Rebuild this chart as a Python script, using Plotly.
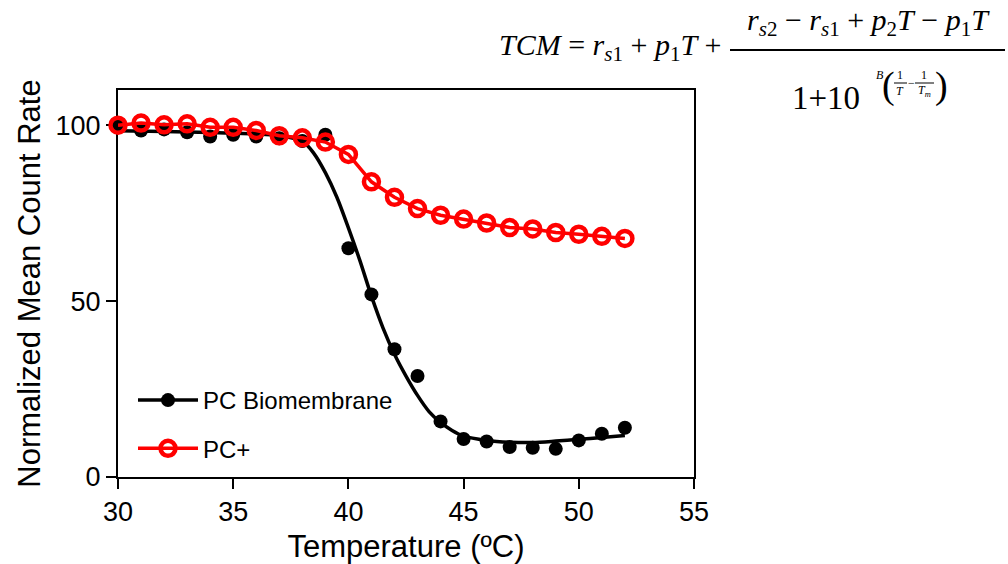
import plotly.graph_objects as go

# ---------------- data ----------------
temperature = [30, 31, 32, 33, 34, 35, 36, 37, 38, 39, 40, 41, 42, 43, 44, 45, 46, 47, 48, 49, 50, 51, 52]
pc_biomembrane = [99.8, 98.5, 98.8, 98.0, 96.8, 97.3, 96.8, 96.3, 95.5, 97.3, 65.0, 51.9, 36.3, 28.7, 15.8,
                  10.8, 10.1, 8.5, 8.3, 8.0, 10.4, 12.3, 14.0]
pc_plus = [100.0, 100.6, 100.1, 100.4, 99.4, 99.4, 98.5, 97.0, 96.4, 95.2, 91.7, 83.9, 79.5, 76.3, 74.4,
           73.3, 72.2, 70.9, 70.5, 69.5, 69.0, 68.4, 67.8]

# fitted (TCM) curve for PC Biomembrane
fit_temperature = [30, 32, 34, 36, 37, 38, 38.5, 39, 39.5, 40, 40.5, 41, 41.5, 42, 42.5, 43, 43.5, 44, 44.5,
                   45, 46, 47, 48, 49, 50, 51, 52]
fit_value = [98.4, 98.2, 97.9, 97.5, 97.0, 95.5, 92.0, 86.5, 79.5, 70.8, 61.5, 51.4, 42.4, 34.9, 28.7, 23.2,
             18.6, 15.5, 13.2, 11.6, 10.4, 9.9, 9.8, 10.2, 10.7, 11.2, 11.8]

series_names = ["PC Biomembrane", "PC+"]
x_ticks = [30, 35, 40, 45, 50, 55]
y_ticks = [0, 50, 100]

# ---------------- figure ----------------
W, H = 1008, 564
L, R, T, B = 118, 314, 90, 87
PW, PH = W - L - R, H - T - B


def px(x):
    return (x - L) / PW


def py(y):
    return (H - B - y) / PH


FONT = "Liberation Sans, Arial, sans-serif"
SERIF = "Liberation Serif, Times New Roman, serif"

fig = go.Figure()

fig.add_trace(go.Scatter(
    x=temperature, y=pc_biomembrane, mode="markers", showlegend=False,
    marker=dict(color="black", size=14, line=dict(width=0)), cliponaxis=False,
))
fig.add_trace(go.Scatter(
    x=fit_temperature, y=fit_value, mode="lines", showlegend=False,
    line=dict(color="black", width=3.5, shape="spline", smoothing=0.8), cliponaxis=False,
))
# legend entry for the black series (line + filled marker)
fig.add_trace(go.Scatter(
    x=[None], y=[None], mode="lines+markers", name=series_names[0],
    line=dict(color="black", width=3.5), marker=dict(color="black", size=14),
    legendgroup="a",
))
fig.add_trace(go.Scatter(
    x=temperature, y=pc_plus, mode="lines+markers", name=series_names[1],
    line=dict(color="#ff0000", width=3.5),
    marker=dict(symbol="circle-open", color="#ff0000", size=15, line=dict(width=4.5, color="#ff0000")),
    cliponaxis=False, legendgroup="b",
))

axis_common = dict(
    showline=True, linecolor="black", linewidth=2, mirror=True,
    ticks="outside", ticklen=10, tickwidth=2, tickcolor="black",
    showgrid=False, zeroline=False, layer="below traces", automargin=False,
    tickfont=dict(family=FONT, size=27, color="black"),
)

fig.update_layout(
    width=W, height=H,
    margin=dict(l=L, r=R, t=T, b=B, pad=0),
    paper_bgcolor="white", plot_bgcolor="white",
    font=dict(family=FONT, color="black"),
    xaxis=dict(range=[30, 55], tickvals=x_ticks,
               title=dict(text="Temperature (ºC)", font=dict(family=FONT, size=31, color="black"), standoff=12),
               **axis_common),
    yaxis=dict(range=[0, 110], tickvals=y_ticks,
               title=dict(text="Normalized Mean Count Rate", font=dict(family=FONT, size=31, color="black"),
                          standoff=6),
               **axis_common),
    legend=dict(x=px(133), y=py(378), xanchor="left", yanchor="top",
                bgcolor="rgba(0,0,0,0)", font=dict(family=FONT, size=24, color="black"),
                traceorder="grouped", tracegroupgap=14, itemwidth=60),
    showlegend=True,
)

# ---------------- equation (TCM) ----------------
eq_font = dict(family=SERIF, size=30, color="black")
big_font = dict(family=SERIF, size=33, color="black")


def note(x, y, text, font, xanchor="center"):
    fig.add_annotation(x=px(x), y=py(y), xref="paper", yref="paper", xanchor=xanchor, yanchor="middle",
                       showarrow=False, text=text, font=font)


def bar(x0, x1, y, w):
    fig.add_shape(type="line", xref="paper", yref="paper", x0=px(x0), x1=px(x1), y0=py(y), y1=py(y),
                  line=dict(color="black", width=w))


note(724, 47, "<i>TCM</i> = <i>r</i><sub><i>s</i>1</sub> + <i>p</i><sub>1</sub><i>T</i> +", eq_font, "right")
note(868, 22, "<i>r</i><sub><i>s</i>2</sub> − <i>r</i><sub><i>s</i>1</sub> + <i>p</i><sub>2</sub><i>T</i> − "
              "<i>p</i><sub>1</sub><i>T</i>", eq_font)
bar(730, 1005, 50, 2)
note(790, 98, "1+10", big_font, "left")

small = dict(family=SERIF, size=12, color="black")
paren = dict(family=SERIF, size=38, color="black")
note(880, 75, "<i>B</i>", small)
note(888, 85, "(", paren)
note(941, 85, ")", paren)
note(900, 75, "1", small)
note(900, 91, "<i>T</i>", small)
bar(894, 907, 83, 1)
note(911, 83, "−", small)
note(924, 75, "1", small)
note(924, 91, "<i>T</i><sub><i>m</i></sub>", small)
bar(915, 934, 83, 1)

fig.write_html("out.html", config={"displayModeBar": False},
               post_script="document.body.style.margin='0';document.body.style.overflow='hidden';")
